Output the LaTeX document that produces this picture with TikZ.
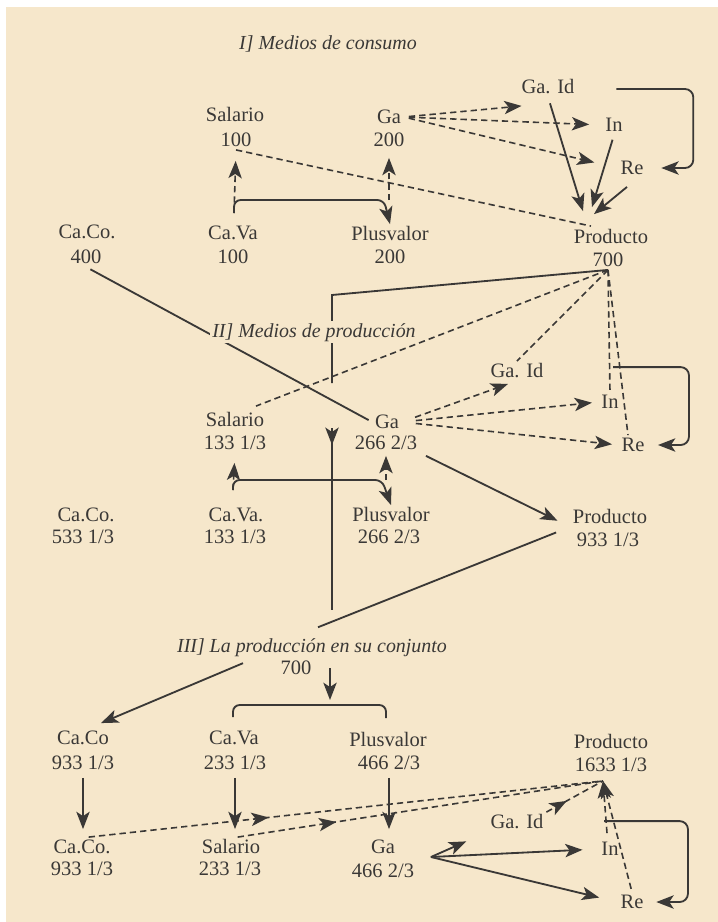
\documentclass[tikz,border=0pt]{standalone}
\usepackage{fontspec}
\setmainfont{Liberation Serif}
\usetikzlibrary{arrows.meta,decorations.markings}

\definecolor{paper}{HTML}{F6E7CB}
\definecolor{ink}{HTML}{3A3836}

\tikzset{
  lbl/.style={font=\fontsize{17.5}{21}\selectfont, inner sep=0.6mm,
    text height=3.9mm, text depth=0.3mm},
  ttl/.style={font=\fontsize{17}{20}\selectfont\itshape, inner sep=0.6mm, anchor=base},
  dsh/.style={dash pattern=on 1.9mm off 1.2mm, line width=0.48mm},
  tip/.style={-{Stealth[length=5.2mm,width=4mm,inset=1.3mm]}},
  arr/.style={tip},
  midarr/.style={postaction={decorate}, decoration={markings,
    mark=at position #1 with {\arrow{Stealth[length=5.2mm,width=4mm,inset=1.3mm]}}}}
}

\begin{document}
\begin{tikzpicture}[x=0.3mm, y=-0.3mm, line width=0.55mm, color=ink]
  \useasboundingbox (0,0) rectangle (718,922);
  \fill[paper] (6,7) rectangle (718,922);

  \foreach \n/\x/\y/\t in {
    sal1/235/115/Salario, sal1n/236/140/100, ga1/389/117/Ga, ga1n/389/140/200,
    gaid1/548/87/Ga. Id, in1/614/125/In, re1/632/168/Re,
    cc1/87/232/Ca.Co., cc1n/86/257/400, cv1/233/233/Ca.Va, cv1n/233/257/100,
    pv1/390/234/Plusvalor, pv1n/390/257/200, pr1/611/237/Producto, pr1n/608/260/700,
    gaid2/517/371/Ga. Id, in2/610/402/In, re2/633/445/Re,
    sal2/235/420/Salario, sal2n/235/443/{133 1/3}, ga2/387/422/Ga, ga2n/386/443/{266 2/3},
    cc2/86/515/Ca.Co., cc2n/83/537/{533 1/3}, cv2/236/515/Ca.Va., cv2n/235/537/{133 1/3},
    pv2/391/515/Plusvalor, pv2n/389/537/{266 2/3}, pr2/610/517/Producto, pr2n/608/540/{933 1/3},
    tot3/296/668/700,
    cc3/83/738/Ca.Co, cc3n/83/763/{933 1/3}, cv3/234/738/Ca.Va, cv3n/235/763/{233 1/3},
    pv3/388/740/Plusvalor, pv3n/389/763/{466 2/3}, pr3/611/742/Producto, pr3n/611/765/{1633 1/3},
    gaid4/517/822/Ga. Id, in4/610/849/In, re4/632/902/Re,
    cc4/82/847/Ca.Co., cc4n/82/869/{933 1/3}, sal4/231/847/Salario, sal4n/230/869/{233 1/3},
    ga4/383/847/Ga, ga4n/383/871/{466 2/3}}
    \node[lbl] (\n) at (\x,\y) {\t};

  \node[ttl] (title1) at (328,49) {I] Medios de consumo};
  \node[ttl] (title3) at (312,652) {III] La producción en su conjunto};

  % I] Medios de consumo
  \coordinate (k1) at (234,213);
  \coordinate (k1r) at (384,200);
  \draw[arr, rounded corners=2mm] (k1) |- (k1r) -- (pv1.north);
  \draw[dsh, arr, shorten >=3.3mm] (k1) -- (sal1n.south);
  \draw[dsh, arr, shorten >=2.4mm] (k1r -| ga1n) -- (ga1n.south);
  \draw[dsh] (sal1n.south) -- ([shift={(-20,-1)}]pr1.north);
  \draw[dsh, arr, shorten <=1.5mm] (ga1.east) -- ([shift={(3,9)}]gaid1.south west);
  \draw[dsh, arr, shorten <=1.5mm, shorten >=4mm] (ga1.east) -- (in1.west);
  \draw[dsh, arr, shorten <=1.5mm, shorten >=7.2mm] (ga1.east) -- (re1.west);
  \draw[arr, shorten <=2mm] (gaid1.south) -- ([shift={(-28,-16)}]pr1.north);
  \draw[arr, shorten <=1.5mm] (in1.south) -- ([shift={(-19,-20)}]pr1.north);
  \draw[arr] ([shift={(-5,9)}]re1.south) -- ([shift={(-17,-13)}]pr1.north);
  \draw[arr, rounded corners=2.5mm] ([shift={(39,2)}]gaid1.east)
    -| ([xshift=14.1mm]re1.east) -- ([xshift=4.5mm]re1.east);

  % I] hacia II] y III]
  \draw[shorten <=1.5mm, shorten >=1.2mm] (cc1n.south) -- (ga2.west);
  \coordinate (j1) at (332,295);
  \coordinate (j2) at (332,383);
  \coordinate (j3) at (332,428);
  \coordinate (j4) at (332,610);
  \draw (pr1n.south) -- (j1) -- (j2);
  \draw[midarr=0.093] (j3) -- (j4);
  \draw[dsh] (pr1n.south) -- ([shift={(21,-4)}]sal2.north);
  \draw[dsh] (pr1n.south) -- (gaid2.north);
  \draw[dsh] (pr1n.south) -- (in2.north);
  \draw[dsh] (pr1n.south) -- ([xshift=-1.5mm]re2.north);

  % II] Medios de produccion
  \draw[dsh, arr, shorten <=4.2mm] (ga2.east) -- ([shift={(-9,3)}]gaid2.south);
  \draw[dsh, arr, shorten <=4.2mm, shorten >=2mm] (ga2.east) -- (in2.west);
  \draw[dsh, arr, shorten <=4.2mm, shorten >=2mm] (ga2.east) -- (re2.west);
  \draw[arr, rounded corners=2.5mm] ([shift={(3,-25)}]in2.north)
    -| ([xshift=12.5mm]re2.east) -- ([xshift=3.2mm]re2.east);
  \coordinate (k3) at (233,490);
  \coordinate (k3r) at (382,480);
  \draw[arr, rounded corners=2mm] (k3) |- (k3r) -- (pv2.north);
  \draw[dsh, arr, shorten >=3mm] (k3) -- (sal2n.south);
  \draw[dsh, arr, shorten >=0.9mm] (k3r -| ga2n) -- (ga2n.south);
  \draw[arr, shorten <=2mm, shorten >=4.2mm] (ga2n.south east) -- (pr2.south west);
  \draw[shorten <=4.5mm] (pr2.south west) -- ([shift={(6,-8)}]title3.north);

  % III] La produccion en su conjunto
  \draw[arr] ([shift={(-69,4)}]title3.south) -- ([shift={(18,-5)}]cc3.north);
  \coordinate (k4) at (233,717);
  \coordinate (k4m) at (330,705);
  \coordinate (k4r) at (386,718);
  \draw[arr, shorten >=1.5mm] (k4m |- tot3.east) -- (k4m);
  \draw[rounded corners=2mm] (k4) |- (k4m) -| (k4r);
  \draw[arr, shorten <=1.5mm, shorten >=2.4mm] (cc3n.south) -- (cc3n.south |- cc4.north);
  \draw[arr, shorten <=1.5mm, shorten >=2.4mm] (cv3n.south) -- (cv3n.south |- sal4.north);
  \draw[arr, shorten <=1.5mm, shorten >=2.4mm] (pv3n.south) -- (pv3n.south |- ga4.north);
  \coordinate (ap3) at ([shift={(-8,6)}]pr3n.south);
  \draw[dsh, midarr=0.35] ([xshift=2mm]cc4.north) -- (ap3);
  \draw[dsh, midarr=0.27] ([xshift=2mm]sal4.north) -- (ap3);
  \draw[dsh, midarr=0.36] (gaid4.north east) -- (ap3);
  \draw[dsh, arr] ([shift={(-3,-6)}]in4.north) -- (ap3);
  \draw[dsh, arr, shorten <=1mm] (re4.north) -- (ap3);
  \draw[arr, rounded corners=2.5mm] ([shift={(-6,-18)}]in4.north)
    -| ([xshift=12.5mm]re4.east) -- ([xshift=3mm]re4.east);
  \coordinate (g4) at ([shift={(14,-14)}]ga4n.east);
  \draw[arr, shorten >=7mm] (g4) -- (gaid4.south west);
  \draw[arr, shorten >=4.8mm] (g4) -- (in4.west);
  \draw[arr, shorten >=5.7mm] (g4) -- (re4.west);

  % titulo II encima de la linea vertical
  \node[ttl, fill=paper] (title2) at (314,337) {II] Medios de producción};
\end{tikzpicture}
\end{document}
